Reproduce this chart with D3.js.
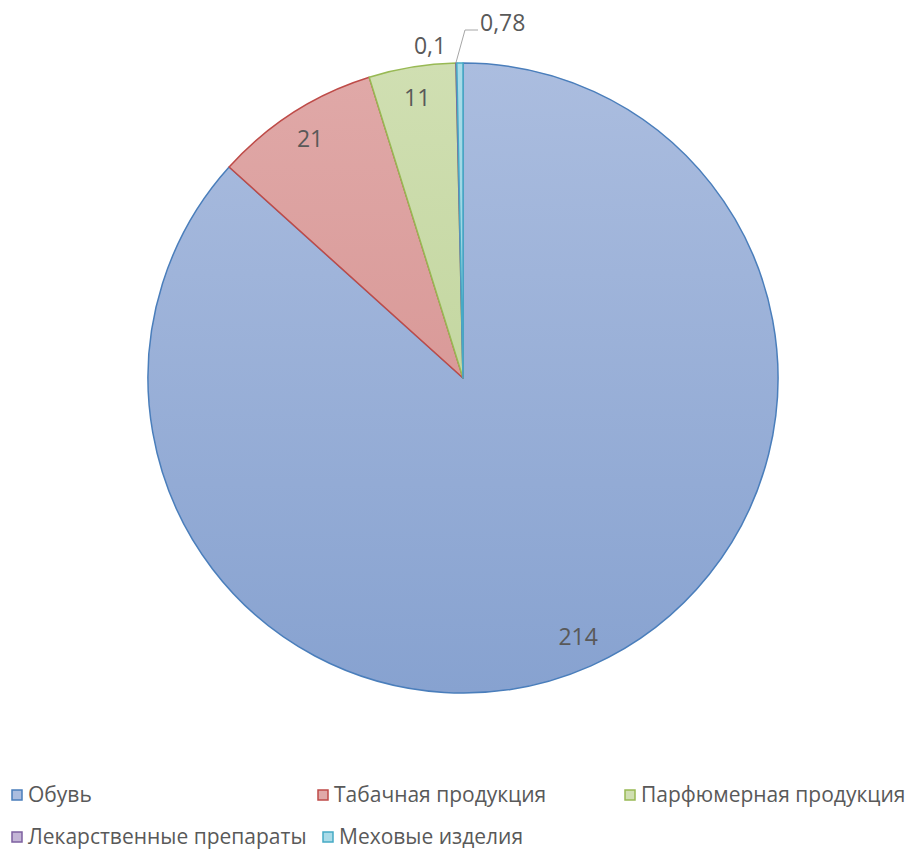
<!DOCTYPE html>
<html>
<head>
<meta charset="utf-8">
<script src="https://cdn.jsdelivr.net/npm/d3@7"></script>
<style>
  body { margin: 0; background: #fff; }
  text { font-family: "Open Sans", sans-serif; fill: #595959; }
</style>
</head>
<body>
<div id="chart"></div>
<script>
const categories = ["Обувь", "Табачная продукция", "Парфюмерная продукция", "Лекарственные препараты", "Меховые изделия"];
const values = [214, 21, 11, 0.1, 0.78];
const valueLabels = ["214", "21", "11", "0,1", "0,78"];

const W = 911, H = 849;
const cx = 463, cy = 378, R = 315;

// top, bottom, stroke
const palette = [
  ["#abbddf", "#87a2d0", "#4a7ebb"],
  ["#e0a9a8", "#d38b89", "#be4b48"],
  ["#d0dfb2", "#b8cf90", "#98b954"],
  ["#c4b5d6", "#a792c2", "#7d60a0"],
  ["#a9dbe8", "#86c9dc", "#46aac5"]
];

var svg = d3.select("#chart").append("svg")
  .attr("width", W)
  .attr("height", H);

var defs = svg.append("defs");
palette.forEach(function(p, i) {
  var gr = defs.append("linearGradient")
    .attr("id", "grad" + i)
    .attr("gradientUnits", "userSpaceOnUse")
    .attr("x1", 0).attr("y1", -R)
    .attr("x2", 0).attr("y2", R);
  gr.append("stop").attr("offset", "0%").attr("stop-color", p[0]);
  gr.append("stop").attr("offset", "100%").attr("stop-color", p[1]);
});

var pie = d3.pie().sort(null).value(d => d);
var arcs = pie(values);
var arc = d3.arc().innerRadius(0).outerRadius(R);

var g = svg.append("g").attr("transform", "translate(" + cx + "," + cy + ")");

g.selectAll("path")
  .data(arcs)
  .enter()
  .append("path")
  .attr("d", arc)
  .attr("fill", (d, i) => "url(#grad" + i + ")")
  .attr("stroke", (d, i) => palette[i][2])
  .attr("stroke-width", 1.5)
  .attr("stroke-linejoin", "round");

// labels: big slices inside
var labelArc = d3.arc().innerRadius(R * 0.9).outerRadius(R * 0.9);
arcs.slice(0, 3).forEach(function(d, i) {
  var c = labelArc.centroid(d);
  g.append("text")
    .attr("x", c[0]).attr("y", c[1])
    .attr("text-anchor", "middle")
    .attr("dy", "0.35em")
    .style("font-size", "23px")
    .text(valueLabels[i]);
});

// 0,1 label outside
g.append("text")
  .attr("x", -33).attr("y", -332)
  .attr("dy", "0.35em")
  .attr("text-anchor", "middle")
  .style("font-size", "23px")
  .text(valueLabels[3]);

// 0,78 label with leader line
var a4 = arcs[4];
var mid = (a4.startAngle + a4.endAngle) / 2;
var px = R * Math.sin(mid), py = -R * Math.cos(mid);
g.append("polyline")
  .attr("points", [[px - 4, py], [2, -348], [15, -348]].map(p => p.join(",")).join(" "))
  .attr("fill", "none")
  .attr("stroke", "#a6a6a6")
  .attr("stroke-width", 1);
g.append("text")
  .attr("x", 17).attr("y", -355)
  .attr("dy", "0.35em")
  .style("font-size", "23px")
  .text(valueLabels[4]);

// legend
var legendPos = [[12, 795], [318, 795], [625, 795], [12, 837], [323, 837]];
var leg = svg.selectAll(".leg")
  .data(categories)
  .enter()
  .append("g")
  .attr("class", "leg")
  .attr("transform", (d, i) => "translate(" + legendPos[i][0] + "," + legendPos[i][1] + ")");

leg.append("rect")
  .attr("x", 0).attr("y", -5)
  .attr("width", 10).attr("height", 10)
  .attr("fill", (d, i) => palette[i][0])
  .attr("stroke", (d, i) => palette[i][2])
  .attr("stroke-width", 1.5);

leg.append("text")
  .attr("x", 16)
  .attr("dy", "0.35em")
  .style("font-size", "21px")
  .text(d => d);
</script>
</body>
</html>
